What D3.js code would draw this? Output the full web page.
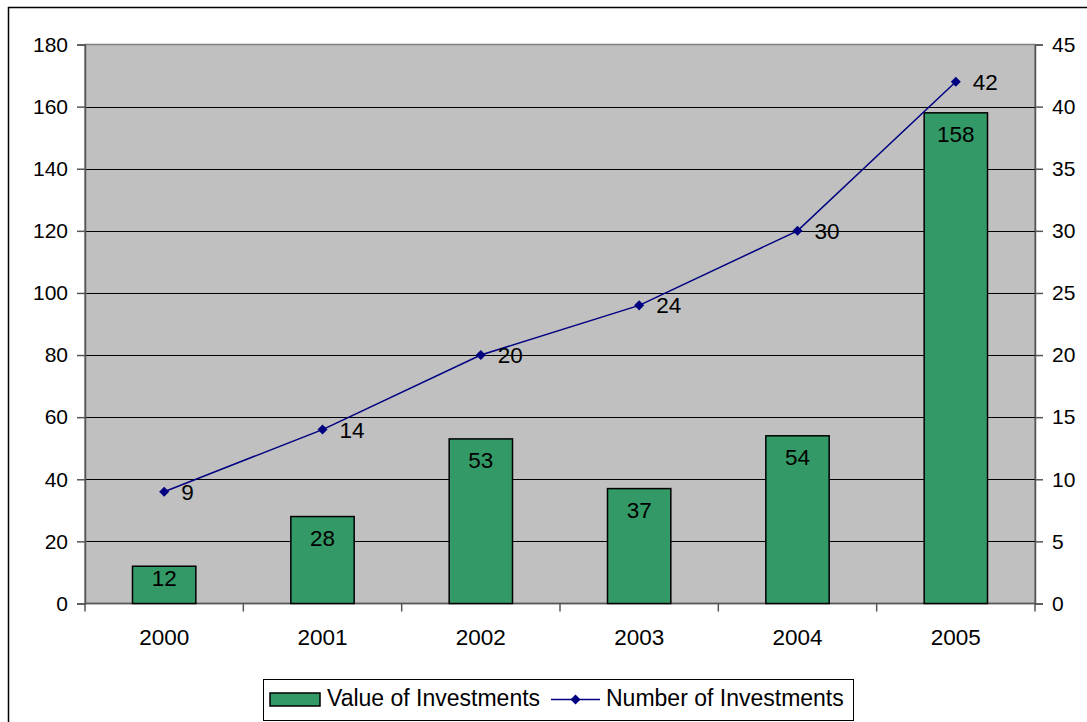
<!DOCTYPE html>
<html><head><meta charset="utf-8">
<script src="https://cdn.jsdelivr.net/npm/d3@7"></script>
<style>body{margin:0;background:#fff;}svg{display:block;font-family:"Liberation Sans",Arial,sans-serif;}</style>
</head><body>
<svg id="c" width="1087" height="722"></svg>
<script>
const years = ["2000","2001","2002","2003","2004","2005"];
const valueOfInvestments = [12,28,53,37,54,158];
const numberOfInvestments = [9,14,20,24,30,42];
const leftTicks = [0,20,40,60,80,100,120,140,160,180];
const rightTicks = [0,5,10,15,20,25,30,35,40,45];

const svg = d3.select("#c");
const L=85, R=1035, T=44.5, B=603.5;
// outer frame
svg.append("path").attr("d","M8.5,730 V7.5 H1095").attr("fill","none").attr("stroke","#000").attr("stroke-width",1.5);

const x = d3.scaleBand().domain(years).range([L,R]).paddingInner(0.6).paddingOuter(0.3);
const xc = d3.scalePoint().domain(years).range([L,R]).padding(0.5);
const yL = d3.scaleLinear().domain([0,180]).range([B,T]);
const yR = d3.scaleLinear().domain([0,45]).range([B,T]);

svg.append("rect").attr("x",L).attr("y",T).attr("width",R-L).attr("height",B-T).attr("fill","#C0C0C0").attr("stroke","#808080").attr("stroke-width",1.5);
// gridlines
svg.append("g").selectAll("line").data(leftTicks.filter(d=>d>0&&d<180)).join("line")
  .attr("x1",L).attr("x2",R).attr("y1",d=>Math.round(yL(d))+0.5).attr("y2",d=>Math.round(yL(d))+0.5)
  .attr("stroke","#000").attr("stroke-width",1);

const fsY = "21px", fsX = "22.5px", fsL = "23px";
const axisCol = "#555";
// left axis
const gl = svg.append("g").attr("transform",`translate(${L},0)`)
  .call(d3.axisLeft(yL).tickValues(leftTicks).tickSize(8).tickPadding(9));
gl.select(".domain").attr("stroke",axisCol).attr("stroke-width",1.5);
gl.selectAll(".tick line").attr("stroke",axisCol).attr("stroke-width",1.5);
gl.selectAll("text").attr("font-size",fsY).attr("fill","#000").attr("font-family","Liberation Sans, Arial, sans-serif");
// right axis
const gr = svg.append("g").attr("transform",`translate(${R},0)`)
  .call(d3.axisRight(yR).tickValues(rightTicks).tickSize(8).tickPadding(9));
gr.select(".domain").attr("stroke",axisCol).attr("stroke-width",1.5);
gr.selectAll(".tick line").attr("stroke",axisCol).attr("stroke-width",1.5);
gr.selectAll("text").attr("font-size",fsY).attr("fill","#000").attr("font-family","Liberation Sans, Arial, sans-serif");
// bottom axis
const step = (R-L)/years.length;
const gb = svg.append("g").attr("transform",`translate(0,${B})`);
gb.append("line").attr("x1",L).attr("x2",R).attr("stroke",axisCol).attr("stroke-width",1.5);
gb.selectAll("line.t").data(d3.range(years.length+1)).join("line").attr("class","t")
  .attr("x1",i=>L+i*step).attr("x2",i=>L+i*step).attr("y1",0).attr("y2",8).attr("stroke",axisCol).attr("stroke-width",1.5);
gb.selectAll("text").data(years).join("text").attr("x",d=>xc(d)).attr("y",41.5)
  .attr("text-anchor","middle").attr("font-size",fsX).text(d=>d);

// bars
svg.append("g").selectAll("rect").data(years).join("rect")
  .attr("x",d=>x(d)).attr("width",x.bandwidth())
  .attr("y",(d,i)=>yL(valueOfInvestments[i])).attr("height",(d,i)=>B-yL(valueOfInvestments[i]))
  .attr("fill","#339966").attr("stroke","#000").attr("stroke-width",1.5);
svg.append("g").selectAll("text").data(years).join("text")
  .attr("x",d=>xc(d)).attr("y",(d,i)=>Math.min(yL(valueOfInvestments[i])+29, B-17.5))
  .attr("text-anchor","middle").attr("font-size",fsX).text((d,i)=>valueOfInvestments[i]);

// line
const line = d3.line().x((d,i)=>xc(years[i])).y(d=>yR(d));
svg.append("path").attr("d",line(numberOfInvestments)).attr("fill","none").attr("stroke","#000080").attr("stroke-width",1.5);
const sym = d3.symbol().type(d3.symbolDiamond2).size(64);
svg.append("g").selectAll("path").data(numberOfInvestments).join("path")
  .attr("transform",(d,i)=>`translate(${xc(years[i])},${yR(d)})`).attr("d",sym).attr("fill","#000080");
svg.append("g").selectAll("text").data(numberOfInvestments).join("text")
  .attr("x",(d,i)=>xc(years[i])+17).attr("y",d=>yR(d)+8)
  .attr("font-size",fsX).text(d=>d);

// legend
const lg = svg.append("g");
lg.append("rect").attr("x",263.5).attr("y",679.5).attr("width",590).attr("height",41).attr("fill","#fff").attr("stroke","#000").attr("stroke-width",1);
lg.append("rect").attr("x",270).attr("y",693).attr("width",50).attr("height",13).attr("fill","#339966").attr("stroke","#000").attr("stroke-width",1.5);
lg.append("text").attr("x",327).attr("y",706).attr("font-size",fsL).text("Value of Investments");
lg.append("line").attr("x1",551).attr("x2",600).attr("y1",699.5).attr("y2",699.5).attr("stroke","#000080").attr("stroke-width",1.5);
lg.append("path").attr("transform","translate(575.5,699.5)").attr("d",sym).attr("fill","#000080");
lg.append("text").attr("x",606).attr("y",706).attr("font-size",fsL).text("Number of Investments");
</script>
</body></html>
